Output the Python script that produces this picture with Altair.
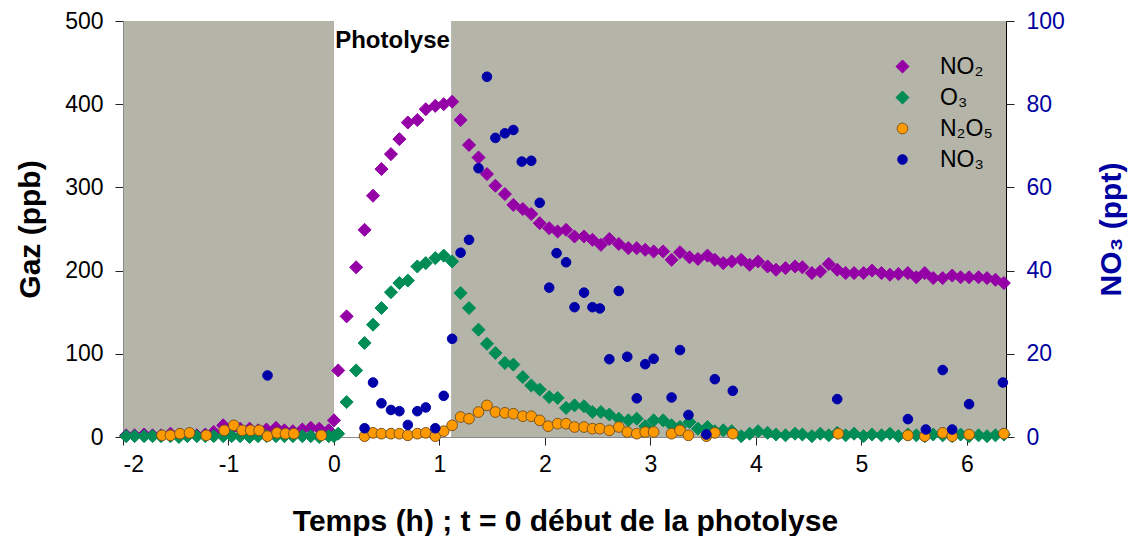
import altair as alt
import pandas as pd

# ---------------- data ----------------
series_names = ["NO₂", "O₃", "N₂O₅", "NO₃"]

t_pre = [-1.97, -1.89, -1.80, -1.72, -1.64, -1.55, -1.47, -1.39, -1.30, -1.22, -1.14, -1.05,
         -0.97, -0.89, -0.80, -0.72, -0.64, -0.55, -0.47, -0.39, -0.30, -0.22, -0.14, -0.05]
no2_pre = [2, 2, 3, 2, 2, 4, 2, 2, 2, 3, 6, 14, 10, 10, 10, 8, 9, 11, 8, 7, 9, 11, 10, 8]
o3_pre = [1, 1, 1, 1, 1, 1, 0, 1, 1, 1, 1, 1, 1, 1, 0, 1, 1, 1, 1, 1, 1, 1, 0, 1]

t_main = [0.00, 0.04, 0.12, 0.21, 0.29, 0.37, 0.45, 0.54, 0.62, 0.70, 0.79, 0.87, 0.96, 1.04, 1.12,
          1.20, 1.28, 1.37, 1.45, 1.53, 1.62, 1.70, 1.79, 1.87, 1.95, 2.04, 2.12, 2.20, 2.28, 2.37, 2.45,
          2.53, 2.61, 2.70, 2.79, 2.87, 2.95, 3.03, 3.12, 3.20, 3.28, 3.37, 3.45, 3.54, 3.61, 3.69, 3.77,
          3.86, 3.94, 4.02, 4.11, 4.19, 4.28, 4.37, 4.44, 4.53, 4.61, 4.69, 4.77, 4.85, 4.93, 5.02, 5.10,
          5.19, 5.27, 5.35, 5.44, 5.52, 5.60, 5.68, 5.77, 5.86, 5.94, 6.02, 6.11, 6.19, 6.27, 6.35]
no2_main = [20, 80, 145, 204, 249, 290, 322, 340, 358, 378, 381, 394, 398, 400, 403,
            381, 351, 336, 316, 302, 292, 279, 274, 268, 257, 251, 247, 249, 241, 241, 237,
            231, 238, 232, 227, 227, 225, 223, 223, 213, 222, 216, 214, 218, 213, 209, 211,
            213, 207, 211, 205, 201, 203, 205, 204, 197, 199, 208, 201, 197, 197, 197, 200,
            197, 195, 196, 197, 192, 197, 191, 191, 194, 192, 192, 192, 191, 189, 185]
o3_main = [1, 4, 42, 80, 113, 135, 155, 174, 185, 188, 205, 209, 215, 218, 211,
           173, 155, 129, 112, 101, 89, 87, 72, 62, 57, 48, 47, 35, 38, 37, 30,
           30, 27, 22, 20, 22, 13, 20, 20, 14, 12, 18, 10, 12, 7, 8, 7,
           1, 4, 7, 5, 3, 2, 4, 3, 1, 4, 2, 5, 2, 4, 1, 3,
           2, 4, 1, 3, 2, 1, 3, 2, 1, 3, 1, 2, 1, 2, 3]

t_n2o5 = [-1.63, -1.55, -1.46, -1.37, -1.21, -1.04, -0.95, -0.87, -0.79, -0.71, -0.63, -0.54, -0.46,
          -0.38, -0.12,
          0.29, 0.37, 0.45, 0.54, 0.62, 0.70, 0.79, 0.87, 0.96, 1.04, 1.12, 1.20, 1.28, 1.37, 1.45,
          1.53, 1.62, 1.70, 1.79, 1.87, 1.95, 2.03, 2.12, 2.20, 2.28, 2.37, 2.45, 2.52, 2.61, 2.70,
          2.78, 2.87, 2.95, 3.03, 3.20, 3.28, 3.36, 3.53, 3.61, 3.78, 4.78, 5.44, 5.60, 5.77, 5.86,
          6.02, 6.35]
n2o5 = [2, 2, 4, 5, 2, 8, 14, 8, 8, 8, 1, 5, 4, 4, 2,
        1, 5, 4, 4, 4, 2, 4, 5, 1, 7, 14, 24, 22, 30, 38,
        30, 29, 28, 25, 25, 20, 13, 16, 16, 12, 12, 10, 10, 8, 12,
        6, 4, 6, 6, 4, 8, 2, 1, 5, 4, 4, 2, 1, 5, 1,
        3, 4]

t_no3 = [-0.63, 0.29, 0.37, 0.45, 0.54, 0.62, 0.70, 0.79, 0.87, 0.96, 1.04, 1.12, 1.20, 1.28, 1.37,
         1.45, 1.53, 1.62, 1.70, 1.78, 1.87, 1.95, 2.04, 2.11, 2.20, 2.28, 2.37, 2.45, 2.52, 2.61,
         2.70, 2.78, 2.87, 2.95, 3.03, 3.20, 3.28, 3.36, 3.53, 3.61, 3.78, 4.77, 5.44, 5.61, 5.77,
         5.86, 6.02, 6.34]
no3 = [14.8, 2.1, 13.1, 8.1, 6.5, 6.2, 2.9, 6.2, 7.1, 2.1, 9.9, 23.6, 44.3, 47.4, 64.6,
       86.6, 71.9, 73.0, 73.8, 66.2, 66.4, 56.3, 35.9, 44.2, 42.0, 31.2, 34.7, 31.2, 30.9, 18.7,
       35.1, 19.3, 9.3, 17.5, 18.8, 9.5, 20.9, 5.3, 0.6, 13.9, 11.1, 9.1, 4.3, 1.8, 16.1,
       1.8, 7.9, 13.1]

photolysis_window = [0.0, 1.11]
photolysis_label = "Photolyse"
x_ticks = [-2, -1, 0, 1, 2, 3, 4, 5, 6]
left_ticks = [0, 100, 200, 300, 400, 500]
right_ticks = [0, 20, 40, 60, 80, 100]

# ---------------- tables ----------------
gas_rows = []
for t, v in zip(t_pre + t_main, no2_pre + no2_main):
    gas_rows.append({"t": t, "v": v, "s": series_names[0]})
for t, v in zip(t_pre + t_main, o3_pre + o3_main):
    gas_rows.append({"t": t, "v": v, "s": series_names[1]})
for t, v in zip(t_n2o5, n2o5):
    gas_rows.append({"t": t, "v": v, "s": series_names[2]})
gas_df = pd.DataFrame(gas_rows)
no3_df = pd.DataFrame({"t": t_no3, "v": no3, "s": series_names[3]})
win_df = pd.DataFrame({"a": [photolysis_window[0]], "b": [photolysis_window[1]],
                       "m": [sum(photolysis_window) / 2], "label": [photolysis_label]})

# ---------------- styles ----------------
FONT = "Liberation Sans"
BLUE = "#0000A0"
fills = ["#9400A6", "#008C55", "#FF9900", "#0000A8"]
strokes = ["#9400A6", "#008C55", "#7A5520", "#0000A8"]
shapes = ["diamond", "diamond", "circle", "circle"]
sizes = [170, 170, 115, 92]

leg = alt.Legend(title=None, orient="none", legendX=768, legendY=34, padding=0,
                 labelFont=FONT, labelFontSize=23, labelColor="black", labelOffset=26,
                 rowPadding=7, labelBaseline="middle", symbolStrokeWidth=1)

def style_enc():
    return dict(
        color=alt.Color("s:N", scale=alt.Scale(domain=series_names, range=fills), legend=leg),
        stroke=alt.Stroke("s:N", scale=alt.Scale(domain=series_names, range=strokes), legend=leg),
        shape=alt.Shape("s:N", scale=alt.Scale(domain=series_names, range=shapes), legend=leg),
        size=alt.Size("s:N", scale=alt.Scale(type="ordinal", domain=series_names, range=sizes),
                      legend=leg),
    )

xscale = alt.Scale(domain=[-2, 6.37], nice=False, zero=False)
x_axis = alt.Axis(values=x_ticks, title="Temps (h) ; t = 0 début de la photolyse",
                  labelExpr="datum.value < 0 ? '-' + abs(datum.value) : '' + datum.value",
                  titleX=442, titleY=84, titleAnchor="middle", titleAlign="center",
                  titleBaseline="middle", domainColor="#8a8a8a")

window = alt.Chart(win_df).mark_rect(color="white").encode(
    x=alt.X("a:Q", scale=xscale, axis=x_axis), x2="b:Q",
    y=alt.value(0), y2=alt.value(416))

label = alt.Chart(win_df).mark_text(font=FONT, fontSize=24, fontWeight="bold",
                                    color="black", baseline="middle").encode(
    x=alt.X("m:Q", scale=xscale), y=alt.value(20), text="label:N")

gas = alt.Chart(gas_df).mark_point(filled=True, opacity=1, strokeWidth=1).encode(
    x=alt.X("t:Q", scale=xscale),
    y=alt.Y("v:Q", scale=alt.Scale(domain=[0, 500], nice=False),
            axis=alt.Axis(orient="left", values=left_ticks, title="Gaz (ppb)",
                          titleX=-93, titleY=208, titleAngle=270, titleAlign="center",
                          titleBaseline="middle", domainColor="#8a8a8a")),
    **style_enc())

nitrate = alt.Chart(no3_df).mark_point(filled=True, opacity=1, strokeWidth=1).encode(
    x=alt.X("t:Q", scale=xscale),
    y=alt.Y("v:Q", scale=alt.Scale(domain=[0, 100], nice=False),
            axis=alt.Axis(orient="right", values=right_ticks, title="NO₃ (ppt)",
                          titleX=105, titleY=208, titleAngle=270, titleAlign="center",
                          titleBaseline="middle", labelColor=BLUE, titleColor=BLUE,
                          domainColor="black")),
    **style_enc())

chart = alt.layer(window, label, gas, nitrate).resolve_scale(y="independent").properties(
    width=883, height=416,
    autosize=alt.AutoSizeParams(type="none"),
    padding={"left": 115, "top": 13, "right": 122, "bottom": 99},
).configure_view(fill="#B4B4A9", stroke=None).configure_axis(
    grid=False, labelFont=FONT, labelFontSize=23, labelColor="black",
    titleFont=FONT, titleFontSize=30, titleFontWeight="bold", titleColor="black",
    tickSize=8, tickColor="#222222", labelPadding=12, domainWidth=1,
).configure_axisX(labelPadding=8)

chart.save("out.html", embed_options={"renderer": "svg", "actions": False})
